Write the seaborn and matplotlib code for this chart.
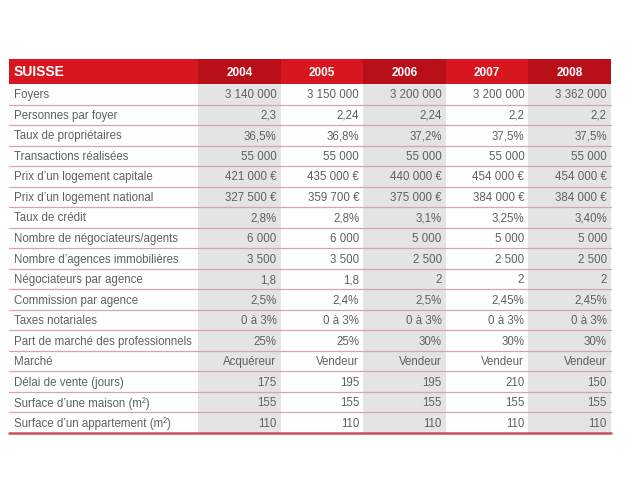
"""Swiss housing market table, 2004-2008, drawn as a seaborn heatmap."""

import matplotlib.pyplot as plt
import numpy as np
import seaborn as sns
from matplotlib.colors import ListedColormap
from matplotlib.patches import Rectangle

title = "SUISSE"
years = ["2004", "2005", "2006", "2007", "2008"]
row_labels = [
    "Foyers",
    "Personnes par foyer",
    "Taux de propriétaires",
    "Transactions réalisées",
    "Prix d’un logement capitale",
    "Prix d’un logement national",
    "Taux de crédit",
    "Nombre de négociateurs/agents",
    "Nombre d’agences immobilières",
    "Négociateurs par agence",
    "Commission par agence",
    "Taxes notariales",
    "Part de marché des professionnels",
    "Marché",
    "Délai de vente (jours)",
    "Surface d’une maison (m²)",
    "Surface d’un appartement (m²)",
]
foyers = ["3 140 000", "3 150 000", "3 200 000", "3 200 000", "3 362 000"]
personnes = ["2,3", "2,24", "2,24", "2,2", "2,2"]
proprietaires = ["36,5%", "36,8%", "37,2%", "37,5%", "37,5%"]
transactions = ["55 000", "55 000", "55 000", "55 000", "55 000"]
prix_capitale = ["421 000 €", "435 000 €", "440 000 €", "454 000 €", "454 000 €"]
prix_national = ["327 500 €", "359 700 €", "375 000 €", "384 000 €", "384 000 €"]
taux_credit = ["2,8%", "2,8%", "3,1%", "3,25%", "3,40%"]
negociateurs = ["6 000", "6 000", "5 000", "5 000", "5 000"]
agences = ["3 500", "3 500", "2 500", "2 500", "2 500"]
nego_par_agence = ["1,8", "1,8", "2", "2", "2"]
commission = ["2,5%", "2,4%", "2,5%", "2,45%", "2,45%"]
taxes = ["0 à 3%", "0 à 3%", "0 à 3%", "0 à 3%", "0 à 3%"]
part_marche = ["25%", "25%", "30%", "30%", "30%"]
marche = ["Acquéreur", "Vendeur", "Vendeur", "Vendeur", "Vendeur"]
delai = ["175", "195", "195", "210", "150"]
surface_maison = ["155", "155", "155", "155", "155"]
surface_appart = ["110", "110", "110", "110", "110"]

cells = np.array([
    foyers, personnes, proprietaires, transactions, prix_capitale,
    prix_national, taux_credit, negociateurs, agences, nego_par_agence,
    commission, taxes, part_marche, marche, delai, surface_maison,
    surface_appart,
])

# pixel layout of the table (figure is 640x480)
W, H = 640, 480
left, label_end, right = 9, 198, 611
head_top, head_bot, bottom = 59, 84, 433

text_color = "#606060"
line_color = "#d9a3aa"
red_bright = "#d8161f"
red_dark = "#b90f19"

sns.set_theme(style="white")
plt.rcParams["font.family"] = ["Liberation Sans", "DejaVu Sans"]

fig = plt.figure(figsize=(6.4, 4.8), dpi=100)
fig.patch.set_facecolor("white")


def px_axes(x0, y0, x1, y1):
    return fig.add_axes([x0 / W, 1 - y1 / H, (x1 - x0) / W, (y1 - y0) / H])


# background axes in pixel coordinates for labels and lines
bg = px_axes(0, 0, W, H)
bg.set_xlim(0, W)
bg.set_ylim(H, 0)
bg.axis("off")

# body: alternating grey / white year columns
n_rows, n_cols = cells.shape
shade = np.tile(np.arange(n_cols) % 2 == 0, (n_rows, 1)).astype(float)
body = px_axes(label_end, head_bot, right, bottom)
sns.heatmap(shade, ax=body, cmap=ListedColormap(["white", "#e4e4e4"]),
            cbar=False, xticklabels=False, yticklabels=False,
            vmin=0, vmax=1)
for i in range(n_rows):
    for j in range(n_cols):
        body.text(j + 0.95, i + 0.55, cells[i, j], ha="right", va="center",
                  fontsize=8.3, color=text_color)

# header: red cells with year labels
head = px_axes(label_end, head_top, right, head_bot)
head_shade = (np.arange(n_cols) % 2 == 0).astype(float)[None, :]
sns.heatmap(head_shade, ax=head, cmap=ListedColormap([red_bright, red_dark]),
            cbar=False, xticklabels=False, yticklabels=False,
            vmin=0, vmax=1)
for j, year in enumerate(years):
    head.text(j + 0.5, 0.55, year, ha="center", va="center",
              fontsize=8.5, fontweight="bold", color="white")

bg.add_patch(Rectangle((left, head_top), label_end - left,
                       head_bot - head_top, color=red_bright, lw=0))
bg.text(left + 5, (head_top + head_bot) / 2 + 0.5, title, ha="left",
        va="center", fontsize=10, fontweight="bold", color="white")

# row labels
row_h = (bottom - head_bot) / n_rows
for i, label in enumerate(row_labels):
    bg.text(left + 5, head_bot + (i + 0.55) * row_h, label, ha="left",
            va="center", fontsize=8.3, color=text_color)

# row separators drawn on top of the cells
over = px_axes(0, 0, W, H)
over.set_xlim(0, W)
over.set_ylim(H, 0)
over.axis("off")
for i in range(1, n_rows):
    y = head_bot + i * row_h
    over.plot([left, right], [y, y], color=line_color, lw=0.9)
over.plot([left, right], [bottom, bottom], color="#c9505b", lw=1.8)

fig.savefig("out.png", dpi=100)
